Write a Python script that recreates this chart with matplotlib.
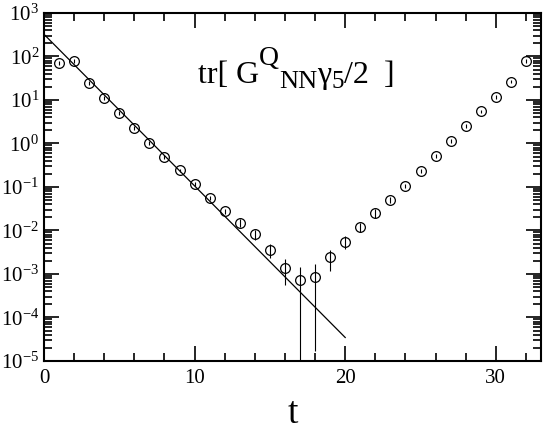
import numpy as np
import matplotlib
matplotlib.use("Agg")
import matplotlib.pyplot as plt
from matplotlib.ticker import LogLocator, MultipleLocator, LogFormatterMathtext, NullFormatter
from matplotlib.transforms import IdentityTransform

plt.rcParams['font.family'] = ['Liberation Serif', 'DejaVu Serif']
plt.rcParams['mathtext.fontset'] = 'custom'
plt.rcParams['mathtext.rm'] = 'Liberation Serif'
plt.rcParams['mathtext.it'] = 'Liberation Serif:italic'
plt.rcParams['mathtext.bf'] = 'Liberation Serif:bold'

# data
t = np.arange(1, 33)
corr = np.array([70, 80, 24.4, 11.4, 5.1, 2.3, 1.03, 0.49, 0.24, 0.117,
                 0.056, 0.0277, 0.015, 0.0082, 0.0036, 0.00138, 0.00074, 0.00087,
                 0.0024, 0.0055, 0.0122, 0.025, 0.051, 0.105, 0.23, 0.52,
                 1.16, 2.56, 5.45, 12.0, 26.6, 79.0])
rel_err = np.array([0.1, 0.1, 0.1, 0.1, 0.1, 0.1, 0.1, 0.1, 0.1, 0.1,
                    0.1, 0.12, 0.2, 0.28, 0.35, 0.6, 1.0, 0.98,
                    0.5, 0.33, 0.25, 0.22, 0.15, 0.12, 0.1, 0.1,
                    0.1, 0.1, 0.1, 0.1, 0.1, 0.1])
err = corr * rel_err

# fit line  A * exp(-m t), t in [0, 20]
fit_A = 324.0
fit_m = 0.8025
fit_t = np.array([0.0, 20.0])

# label pieces: (text, fontsize, vertical offset in px)
label_pieces = [("tr[ G", 23, 0), ("Q", 20, 18), ("NN", 19, -5),
                ("\u03b3", 23, 0), ("5", 18, -5), ("/2", 23, 0), ("  ]", 23, 0)]

fig = plt.figure(figsize=(5.45, 4.33), dpi=100)
ax = fig.add_axes([0.0807, 0.1663, 0.9927 - 0.0807, 0.970 - 0.1663])

lo = np.maximum(corr - err, 1e-9)
hi = corr + err
ax.vlines(t, lo, hi, colors='black', linewidth=0.8, zorder=2)
ax.plot(t, corr, linestyle='none', marker='o', markersize=7,
        markerfacecolor='none', markeredgecolor='black', markeredgewidth=0.9, zorder=3)
ax.plot(fit_t, fit_A * np.exp(-fit_m * fit_t), color='black', linewidth=0.9, zorder=2)

ax.set_yscale('log')
ax.set_xlim(0, 33)
ax.set_ylim(1e-5, 1e3)

ax.xaxis.set_major_locator(MultipleLocator(10))
ax.xaxis.set_minor_locator(MultipleLocator(2))
ax.yaxis.set_major_locator(LogLocator(base=10, numticks=20))
ax.yaxis.set_minor_locator(LogLocator(base=10, subs=np.arange(2, 10), numticks=20))
ax.yaxis.set_major_formatter(LogFormatterMathtext())
ax.yaxis.set_minor_formatter(NullFormatter())

ax.tick_params(which='both', direction='in', top=True, right=True, labelsize=15, width=1.2)
ax.tick_params(which='major', length=11)
ax.tick_params(which='minor', length=5.5)
ax.tick_params(axis='x', which='major', pad=6)
for s in ax.spines.values():
    s.set_linewidth(1.5)

fig.text(0.538, 0.022, 't', fontsize=27, ha='center', va='baseline')

# composite label
fig.canvas.draw()
renderer = fig.canvas.get_renderer()
x0, y0 = ax.transData.transform((10.2, 24.5))
x = x0
for txt, fs, dy in label_pieces:
    tx = fig.text(x, y0 + dy, txt, fontsize=fs, ha='left', va='baseline',
                  transform=IdentityTransform())
    bb = tx.get_window_extent(renderer)
    x += bb.width

fig.savefig('out.png', dpi=100)
